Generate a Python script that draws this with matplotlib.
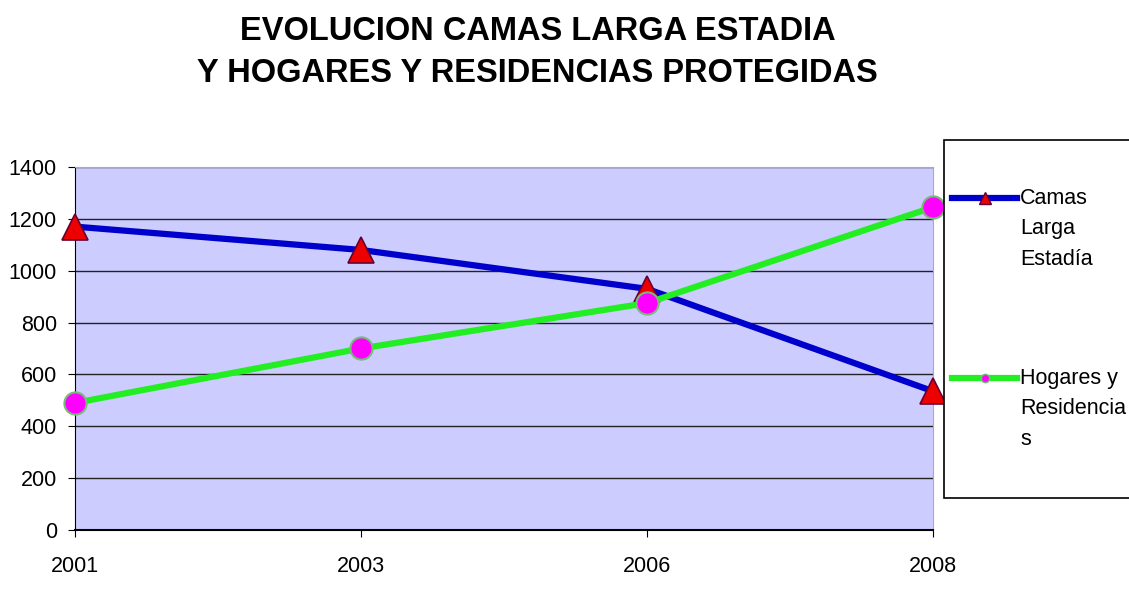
import matplotlib.pyplot as plt
from matplotlib.lines import Line2D
from matplotlib.patches import Rectangle

plt.rcParams['font.family'] = ['Liberation Sans', 'DejaVu Sans']

years = ['2001', '2003', '2006', '2008']
camas = [1170, 1080, 930, 535]
hogares = [490, 700, 875, 1245]
labels = ['Camas\nLarga\nEstadía', 'Hogares y\nResidencia\ns']

fig = plt.figure(figsize=(11.29, 6.0), dpi=100)
ax = fig.add_axes([0.0664, 0.1167, 0.76, 0.605])
ax.set_facecolor('#ccccff')

x = range(len(years))
ax.plot(x, camas, color='#0000cc', lw=4.5, marker='^', ms=19,
        mfc='#ee0000', mec='#660033', mew=1.2, zorder=3, clip_on=False)
ax.plot(x, hogares, color='#22ee22', lw=4.5, marker='o', ms=16,
        mfc='#ff00ff', mec='#77bb77', mew=1.5, zorder=3, clip_on=False)

ax.set_xlim(0, 3)
ax.set_ylim(0, 1400)
ax.set_yticks(range(0, 1401, 200))
ax.set_xticks(list(x))
ax.set_xticklabels(years)
ax.yaxis.grid(True, color='#222222', lw=1)
ax.set_axisbelow(True)
ax.tick_params(labelsize=15.5, length=5, color='black')
ax.tick_params(axis='x', pad=14)
ax.tick_params(axis='y', pad=8)
for s in ['top', 'right']:
    ax.spines[s].set_color('#bb99dd')
ax.spines['left'].set_color('black')
ax.spines['bottom'].set_color('black')
ax.spines['bottom'].set_linewidth(1.5)

fig.text(0.476, 0.947, 'EVOLUCION CAMAS LARGA ESTADIA', ha='center', va='center',
         fontsize=23.5, fontweight='bold')
fig.text(0.476, 0.877, 'Y HOGARES Y RESIDENCIAS PROTEGIDAS', ha='center', va='center',
         fontsize=23.5, fontweight='bold')

# legend box drawn by hand so the key sits beside the first text line
fig.add_artist(Rectangle((944 / 1129, 1 - 498 / 600), 0.2, 358 / 600,
                         transform=fig.transFigure, fc='white', ec='black', lw=1.2))
styles = [dict(color='#0000cc', marker='^', mfc='#ee0000', mec='#660033', ms=8),
          dict(color='#22ee22', marker='o', mfc='#ff00ff', mec='#77bb77', ms=6)]
for i, (lab, st) in enumerate(zip(labels, styles)):
    yk = 1 - (198 + i * 180) / 600
    fig.add_artist(Line2D([952 / 1129, 1017 / 1129], [yk, yk], lw=4.5,
                          transform=fig.transFigure, **{k: v for k, v in st.items() if k != 'marker'}))
    fig.add_artist(Line2D([985 / 1129], [yk], lw=0, transform=fig.transFigure, **st))
    fig.text(1020 / 1129, yk + 0.017, lab, ha='left', va='top', fontsize=15.5,
             linespacing=1.6)

fig.savefig('out.png', dpi=100)
